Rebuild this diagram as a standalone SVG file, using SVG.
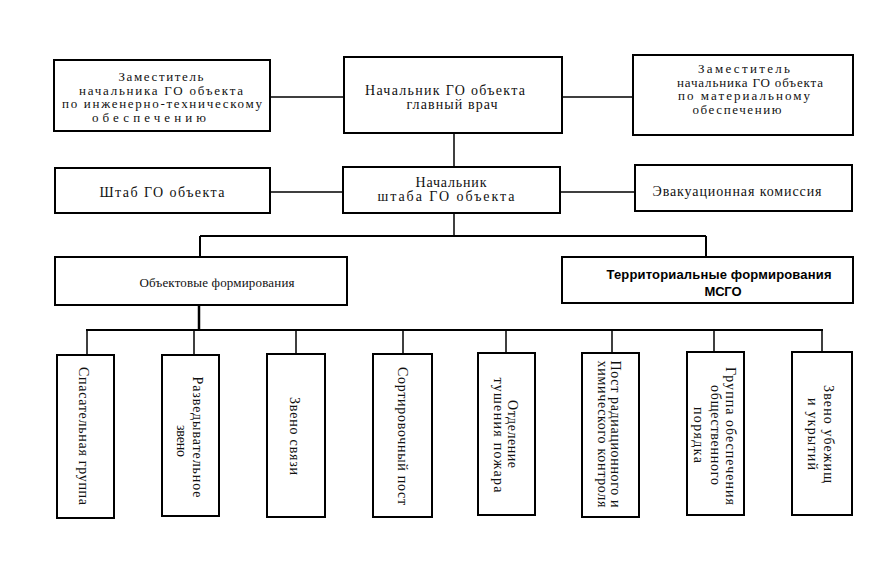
<svg xmlns="http://www.w3.org/2000/svg" width="893" height="567" viewBox="0 0 893 567">
<style>
.box{fill:#fff;stroke:#000;stroke-width:2}
.ln{fill:none;stroke:#000;stroke-width:1.5}
.t{font-family:"Liberation Serif","Times New Roman",serif;font-size:14px;fill:#111;text-anchor:middle}
.s{font-size:13px}
.b{font-family:"Liberation Sans",Arial,sans-serif;font-size:13px;font-weight:bold;fill:#000;text-anchor:middle}
</style>
<rect width="893" height="567" fill="#fff"/>
<g id="connectors">
<path class="ln" d="M270 97H345M562 97H633"/>
<path class="ln" d="M454 133V167"/>
<path class="ln" d="M270 192H343M560 192H635"/>
<path class="ln" d="M454 213V236"/>
<path class="ln" d="M200 236H706M200 236V257M706 236V257" style="stroke-width:2"/>
<path class="ln" d="M199 305V330" style="stroke-width:2.5"/>
<path class="ln" d="M86 330H823" style="stroke-width:2"/>
<path class="ln" d="M87 330V355M194 330V355M296 330V354M403 330V354M506 330V353M612 330V353M714 330V352M822 330V352"/>
</g>
<g id="n_deputy_eng">
<rect class="box" x="54" y="60" width="216" height="71"/>
<text class="t s" x="161" y="81" textLength="85">Заместитель</text>
<text class="t s" x="161" y="94.5" textLength="164">начальника ГО объекта</text>
<text class="t s" x="162" y="108" textLength="200">по инженерно-техническому</text>
<text class="t s" x="149" y="121.5" textLength="114">обеспечению</text>
</g>
<g id="n_chief">
<rect class="box" x="344" y="57" width="218" height="76"/>
<text class="t" x="445" y="95" textLength="160">Начальник ГО объекта</text>
<text class="t" x="452" y="109" textLength="91">главный врач</text>
</g>
<g id="n_deputy_mat">
<rect class="box" x="633" y="55" width="220" height="80"/>
<text class="t s" x="744" y="73" textLength="92">Заместитель</text>
<text class="t s" x="750" y="86.5" textLength="146">начальника ГО объекта</text>
<text class="t s" x="744" y="100" textLength="132">по материальному</text>
<text class="t s" x="737" y="113.5" textLength="89">обеспечению</text>
</g>
<g id="n_shtab">
<rect class="box" x="55" y="168" width="215" height="45"/>
<text class="t" x="162" y="197" textLength="125">Штаб ГО объекта</text>
</g>
<g id="n_chief_shtab">
<rect class="box" x="343" y="167" width="217" height="46"/>
<text class="t" x="451" y="187" textLength="71">Начальник</text>
<text class="t" x="446" y="201" textLength="137">штаба ГО объекта</text>
</g>
<g id="n_evac">
<rect class="box" x="635" y="165" width="217" height="46"/>
<text class="t" x="737" y="196" textLength="169">Эвакуационная комиссия</text>
</g>
<g id="n_obj">
<rect class="box" x="55" y="257" width="292" height="48"/>
<text class="t s" x="217" y="287" textLength="155">Объектовые формирования</text>
</g>
<g id="n_terr">
<rect class="box" x="562" y="257" width="291" height="46"/>
<text class="b" x="719" y="279" textLength="225">Территориальные формирования</text>
<text class="b" x="723" y="296" textLength="37">МСГО</text>
</g>
<g id="n_b1">
<rect class="box" x="57" y="355" width="57" height="163"/>
<text class="t" transform="translate(83,436) rotate(90)" y="4" textLength="138">Спасательная группа</text>
</g>
<g id="n_b2">
<rect class="box" x="162" y="355" width="57" height="161"/>
<text class="t" transform="translate(197,437) rotate(90)" y="4" textLength="121">Разведывательное</text>
<text class="t" transform="translate(181,441) rotate(90)" y="4" textLength="32">звено</text>
</g>
<g id="n_b3">
<rect class="box" x="267" y="354" width="58" height="163"/>
<text class="t" transform="translate(294,436) rotate(90)" y="4" textLength="78">Звено связи</text>
</g>
<g id="n_b4">
<rect class="box" x="373" y="354" width="59" height="163"/>
<text class="t" transform="translate(402,436) rotate(90)" y="4" textLength="138">Сортировочный пост</text>
</g>
<g id="n_b5">
<rect class="box" x="478" y="353" width="57" height="162"/>
<text class="t" transform="translate(512,434) rotate(90)" y="4" textLength="68">Отделение</text>
<text class="t" transform="translate(498,435) rotate(90)" y="4" textLength="115">тушения пожара</text>
</g>
<g id="n_b6">
<rect class="box" x="582" y="353" width="57" height="164"/>
<text class="t" transform="translate(615,434) rotate(90)" y="4" textLength="147">Пост радиационного и</text>
<text class="t" transform="translate(602,434) rotate(90)" y="4" textLength="147">химического контроля</text>
</g>
<g id="n_b7">
<rect class="box" x="687" y="352" width="57" height="163"/>
<text class="t" transform="translate(730,436) rotate(90)" y="4" textLength="138">Группа обеспечения</text>
<text class="t" transform="translate(715,435) rotate(90)" y="4" textLength="100">общественного</text>
<text class="t" transform="translate(698,435) rotate(90)" y="4" textLength="56">порядка</text>
</g>
<g id="n_b8">
<rect class="box" x="792" y="352" width="60" height="163"/>
<text class="t" transform="translate(828,434) rotate(90)" y="4" textLength="98">Звено убежищ</text>
<text class="t" transform="translate(812,434) rotate(90)" y="4" textLength="72">и укрытий</text>
</g>
</svg>
